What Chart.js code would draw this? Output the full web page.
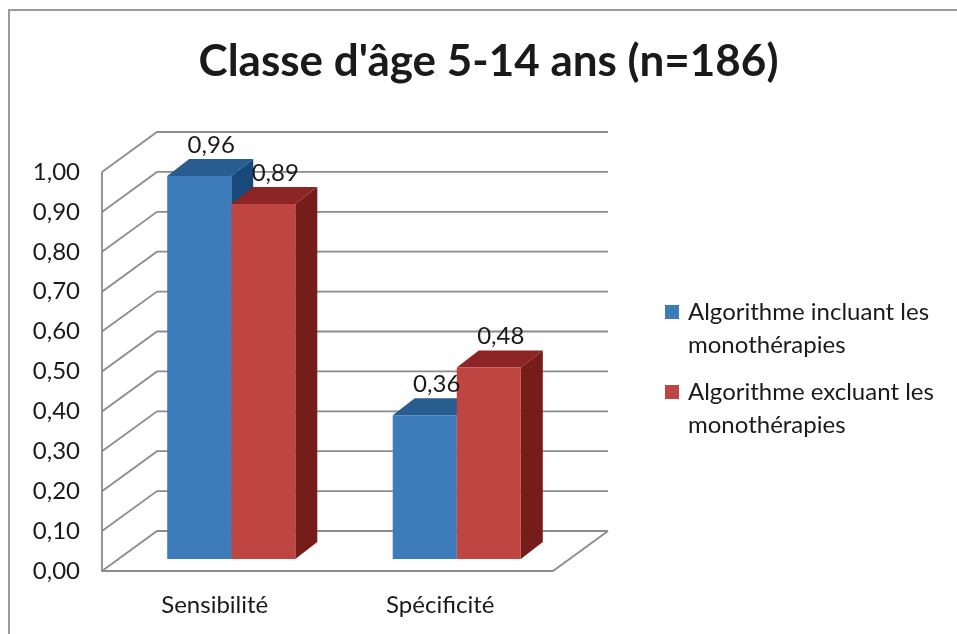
<!DOCTYPE html>
<html>
<head>
<meta charset="utf-8">
<script src="https://cdn.jsdelivr.net/npm/chart.js@4.4.0/dist/chart.umd.min.js"></script>
<style>
  body { margin: 0; background: #fff; }
  canvas { display: block; }
</style>
</head>
<body>
<canvas id="chart" width="957" height="634"></canvas>
<script>
// data
const categories = ["Sensibilité", "Spécificité"];
const seriesNames = [
  ["Algorithme incluant les", "monothérapies"],
  ["Algorithme excluant les", "monothérapies"],
];
const inclValues = [0.96, 0.36];
const exclValues = [0.89, 0.48];
const yMin = 0;
const yMax = 1;
const yStep = 0.1;

// excel-ish 3d look
const frontColors = ["#3d7bba", "#be4541"];
const topColors = ["#275d8f", "#8c2523"];
const sideColors = ["#174a7b", "#761c19"];
const wallDepth = { x: 55, y: -40 };
const barShift = { x: 16.5, y: -12 }; // bars sit a bit behind the front plane
const barDepth = { x: 22, y: -17 };
const lineColor = "#8c8c8c";
const textColor = "#1a1a1a";
const fontFamily = "Lato, 'Open Sans', sans-serif";
const fontSize = 24;

function fmt(v) {
  return v.toFixed(2).replace(".", ",");
}

function poly(ctx, pts, color) {
  ctx.beginPath();
  ctx.moveTo(pts[0][0], pts[0][1]);
  for (let i = 1; i < pts.length; i++) ctx.lineTo(pts[i][0], pts[i][1]);
  ctx.closePath();
  ctx.fillStyle = color;
  ctx.fill();
}

const excel3d = {
  id: "excel3d",
  beforeDatasetsDraw(chart) {
    const ctx = chart.ctx;
    const area = chart.chartArea;
    const y = chart.scales.y;

    // walls + gridlines
    ctx.save();
    ctx.strokeStyle = lineColor;
    ctx.lineWidth = 1.8;
    ctx.beginPath();
    for (let v = yMin; v <= yMax + 1e-9; v += yStep) {
      const py = y.getPixelForValue(v);
      ctx.moveTo(area.left, py);
      ctx.lineTo(area.left + wallDepth.x, py + wallDepth.y);
      ctx.lineTo(area.right + wallDepth.x, py + wallDepth.y);
    }
    // front axis and floor
    ctx.moveTo(area.left, area.top);
    ctx.lineTo(area.left, area.bottom);
    ctx.lineTo(area.right, area.bottom);
    ctx.lineTo(area.right + wallDepth.x, area.bottom + wallDepth.y);
    ctx.stroke();
    ctx.restore();

    // top and side faces, then chart.js draws the fronts over them
    ctx.save();
    ctx.translate(barShift.x, barShift.y);
    const metas = chart.data.datasets.map((d, i) => chart.getDatasetMeta(i));
    categories.forEach((c, ci) => {
      metas.forEach((meta, di) => {
        const bar = meta.data[ci];
        const l = bar.x - bar.width / 2;
        const r = bar.x + bar.width / 2;
        const t = bar.y;
        const b = bar.base;
        poly(ctx, [[l, t], [r, t], [r + barDepth.x, t + barDepth.y], [l + barDepth.x, t + barDepth.y]], topColors[di]);
        poly(ctx, [[r, t], [r + barDepth.x, t + barDepth.y], [r + barDepth.x, b + barDepth.y], [r, b]], sideColors[di]);
      });
    });
    ctx.restore();

    ctx.save();
    ctx.translate(barShift.x, barShift.y);
  },
  afterDatasetsDraw(chart) {
    const ctx = chart.ctx;
    ctx.restore();

    // value labels
    ctx.save();
    ctx.font = fontSize + "px " + fontFamily;
    ctx.fillStyle = textColor;
    ctx.textAlign = "center";
    ctx.textBaseline = "middle";
    chart.data.datasets.forEach((ds, di) => {
      chart.getDatasetMeta(di).data.forEach((bar, i) => {
        const lx = bar.x + barShift.x + 12;
        const ly = bar.y + barShift.y + barDepth.y - 14;
        ctx.fillText(fmt(ds.data[i]), lx, ly);
      });
    });
    ctx.restore();
  },
  afterDraw(chart) {
    const ctx = chart.ctx;
    // legend on the right, two lines per entry
    ctx.save();
    ctx.font = fontSize + "px " + fontFamily;
    ctx.textBaseline = "middle";
    seriesNames.forEach((lines, i) => {
      const top = 312 + i * 80;
      ctx.fillStyle = frontColors[i];
      ctx.fillRect(665, top - 7, 14, 14);
      ctx.fillStyle = textColor;
      lines.forEach((line, j) => ctx.fillText(line, 688, top + j * 33));
    });
    ctx.restore();

    // outer frame
    ctx.save();
    ctx.strokeStyle = "#9a9a9a";
    ctx.lineWidth = 2;
    ctx.beginPath();
    ctx.moveTo(9, chart.height);
    ctx.lineTo(9, 10);
    ctx.lineTo(chart.width, 10);
    ctx.stroke();
    ctx.restore();
  },
};

new Chart(document.getElementById("chart"), {
  type: "bar",
  data: {
    labels: categories,
    datasets: [
      { label: seriesNames[0].join(" "), data: inclValues, backgroundColor: frontColors[0] },
      { label: seriesNames[1].join(" "), data: exclValues, backgroundColor: frontColors[1] },
    ],
  },
  options: {
    responsive: false,
    animation: false,
    events: [],
    layout: { padding: { left: 20, right: 0, top: 10, bottom: 15 } },
    datasets: {
      bar: { categoryPercentage: 0.568, barPercentage: 1, borderWidth: 0 },
    },
    scales: {
      x: {
        grid: { display: false, drawTicks: false },
        border: { display: false },
        afterFit(s) {
          s.height = 48;
        },
        ticks: { color: textColor, font: { family: fontFamily, size: fontSize }, padding: 20 },
      },
      y: {
        min: yMin,
        max: yMax,
        grid: { display: false, drawTicks: false },
        border: { display: false },
        afterFit(s) {
          s.width = 82;
        },
        ticks: {
          stepSize: yStep,
          padding: 22,
          color: textColor,
          font: { family: fontFamily, size: fontSize },
          callback: (v) => fmt(v),
        },
      },
      // empty box on the right that keeps room for the legend
      legendSpace: {
        type: "linear",
        position: "right",
        grid: { display: false, drawTicks: false },
        border: { display: false },
        ticks: { display: false },
        afterFit(s) {
          s.width = 404;
        },
      },
    },
    plugins: {
      legend: { display: false },
      tooltip: { enabled: false },
      title: {
        display: true,
        text: "Classe d'âge 5-14 ans (n=186)",
        color: textColor,
        font: { family: fontFamily, size: 44, weight: "bold" },
        padding: { top: 25.6, bottom: 83.6 },
      },
    },
  },
  plugins: [excel3d],
});
</script>
</body>
</html>
